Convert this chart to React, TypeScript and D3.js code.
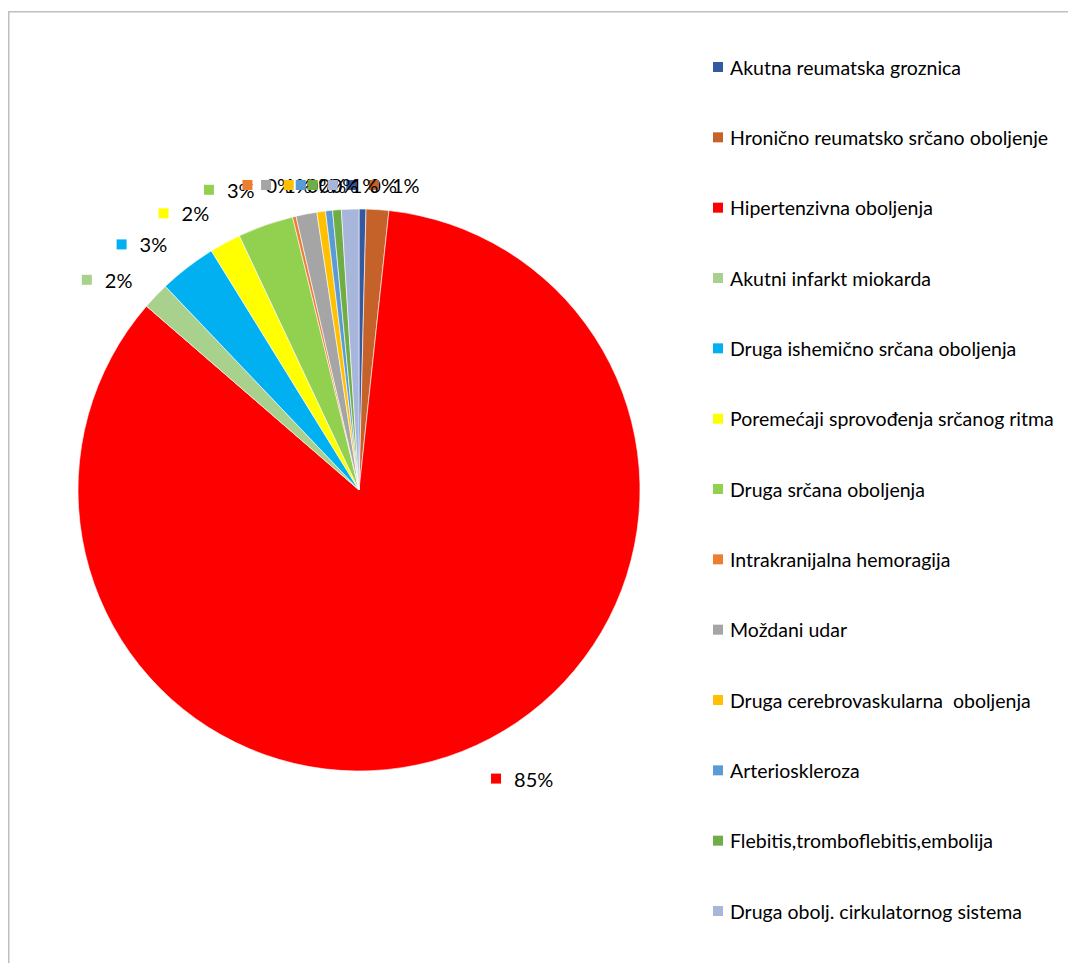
import React from "react";
import * as d3 from "d3";

const categories = [
  "Akutna reumatska groznica",
  "Hronično reumatsko srčano oboljenje",
  "Hipertenzivna oboljenja",
  "Akutni infarkt miokarda",
  "Druga ishemično srčana oboljenja",
  "Poremećaji sprovođenja srčanog ritma",
  "Druga srčana oboljenja",
  "Intrakranijalna hemoragija",
  "Moždani udar",
  "Druga cerebrovaskularna  oboljenja",
  "Arterioskleroza",
  "Flebitis,tromboflebitis,embolija",
  "Druga obolj. cirkulatornog sistema",
];

const values = [0.4, 1.3, 84.65, 1.55, 3.3, 1.8, 3.2, 0.2, 1.2, 0.5, 0.4, 0.5, 1.0];

const colors = [
  "#335AA1",
  "#C4622A",
  "#FF0000",
  "#A9D18E",
  "#00B0F0",
  "#FFFF00",
  "#92D050",
  "#ED7D31",
  "#A5A5A5",
  "#FFC000",
  "#5B9BD5",
  "#70AD47",
  "#A9B6DC",
];

const W = 1068;
const H = 955;
const FONT = "Lato, 'Open Sans', sans-serif";

export default function App() {
  const cx = 351;
  const cy = 482;
  const r = 281;
  const total = d3.sum(values);
  const pct = d3.format(".0%");
  const pie = d3.pie<number>().sort(null).startAngle(0).endAngle(2 * Math.PI);
  const arcs = pie(values);
  const arcGen = d3.arc<d3.PieArcDatum<number>>().innerRadius(0).outerRadius(r);

  const legendY = d3
    .scalePoint<string>()
    .domain(categories)
    .range([59, 903]);

  const labelPos = (a: d3.PieArcDatum<number>) => {
    const mid = (a.startAngle + a.endAngle) / 2;
    const signed = mid > Math.PI ? mid - 2 * Math.PI : mid;
    const deg = (signed * 180) / Math.PI;
    if (Math.abs(deg) < 16) {
      return { x: cx + 10 + 7.4 * deg, y: cy - r - 24 };
    }
    const lower = mid > Math.PI / 2 && mid < (3 * Math.PI) / 2;
    const la = mid - ((lower ? 7.5 : 3.5) * Math.PI) / 180;
    const lr = lower ? 330 : 326;
    return { x: cx + lr * Math.sin(la), y: cy - lr * Math.cos(la) };
  };

  return (
    <svg width={W} height={H} style={{ display: "block", overflow: "hidden" }}>
      <rect x={0} y={0} width={W} height={H} fill="#fff" />
      <rect x={0.75} y={3.75} width={W + 50} height={H + 50} fill="none" stroke="#BFBFBF" strokeWidth={1.5} />
      <g>
        {arcs.map((a, i) => (
          <path
            key={i}
            d={arcGen(a) || ""}
            transform={`translate(${cx},${cy})`}
            fill={colors[i]}
            stroke="#fff"
            strokeWidth={0.6}
          />
        ))}
      </g>
      <g fontFamily={FONT} fontSize={20}>
        {arcs.map((a, i) => {
          const p = labelPos(a);
          const txt = pct(a.data / total);
          const left = p.x - 28;
          return (
            <g key={i}>
              <rect x={left} y={p.y - 5} width={10} height={10} fill={colors[i]} />
              <text x={left + 23} y={p.y} dominantBaseline="central" fill="#000">
                {txt}
              </text>
            </g>
          );
        })}
      </g>
      <g fontFamily={FONT} fontSize={19.5}>
        {categories.map((c, i) => {
          const y = legendY(c) as number;
          return (
            <g key={c}>
              <rect x={705} y={y - 5} width={10} height={10} fill={colors[i]} />
              <text x={722} y={y} dominantBaseline="central" fill="#000" style={{ whiteSpace: "pre" }}>
                {c}
              </text>
            </g>
          );
        })}
      </g>
    </svg>
  );
}
